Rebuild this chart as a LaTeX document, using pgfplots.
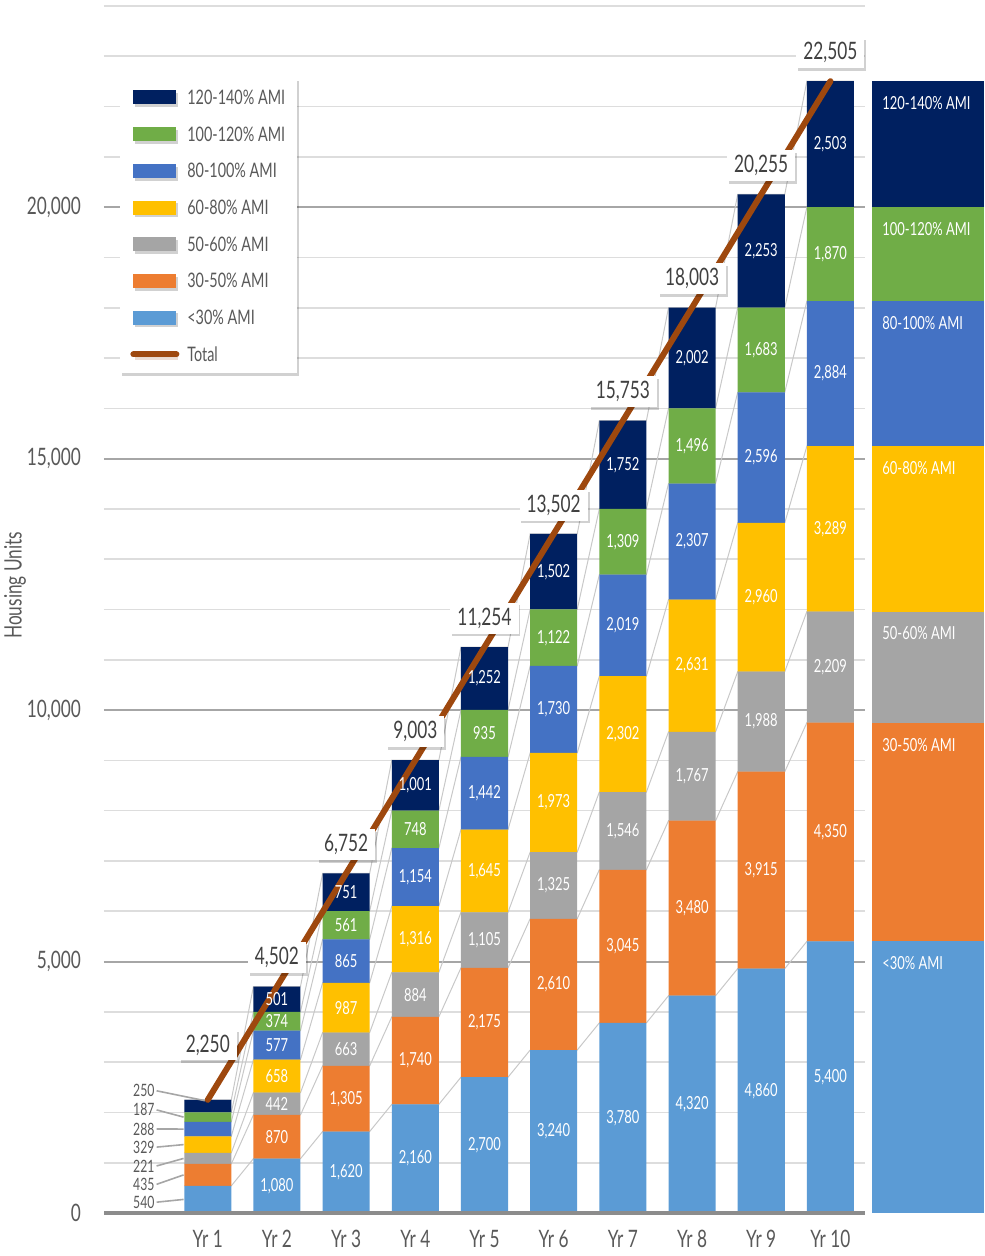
\documentclass[border=0pt]{standalone}
\usepackage{pgfplots}
\pgfplotsset{compat=1.18}
\usepackage{pgfplotstable}
\usepackage{fontspec}
\setmainfont{Lato}[FakeStretch=0.72]
\usetikzlibrary{shadows}

\definecolor{cA}{HTML}{5B9BD5}
\definecolor{cB}{HTML}{ED7D31}
\definecolor{cC}{HTML}{A5A5A5}
\definecolor{cD}{HTML}{FFC000}
\definecolor{cE}{HTML}{4472C4}
\definecolor{cF}{HTML}{70AD47}
\definecolor{cG}{HTML}{002060}
\definecolor{cT}{HTML}{9E480E}
\definecolor{txt}{HTML}{595959}
\definecolor{txtd}{HTML}{404040}
\definecolor{gmaj}{HTML}{A6A6A6}
\definecolor{gmin}{HTML}{DDDDDD}
\definecolor{sline}{HTML}{C8C8C8}
\definecolor{axl}{HTML}{8C8C8C}

\tikzset{shadowsty/.style={drop shadow={shadow xshift=0.9pt, shadow yshift=-1.4pt, opacity=0.18, fill=black}}}

\pgfplotsset{
  /pgf/number format/.cd, fixed, precision=0, 1000 sep={,}, assume math mode=true,
  /pgfplots/.cd,
  base/.style={scale only axis, width=380.5pt, height=603.5pt, xmin=-0.5, xmax=10.5, ymin=0, ymax=24000, at={(0pt,0pt)}, anchor=south west},
  patchlegend/.style={legend image code/.code={\fill[##1] (0pt,-3.5pt) rectangle (21.5pt,3.5pt);}},
  linelegend/.style={legend image code/.code={\draw[##1, line cap=round] (0pt,0pt) -- (21.5pt,0pt);}},
  seglabel/.style={draw=none, mark=none, nodes near coords, point meta=explicit, skip coords between index={0}{1},
    every node near coord/.append style={anchor=center, text=white, font=\fontsize{9}{9}\selectfont, inner sep=0pt}},
  totlabel/.style={draw=none, mark=none, nodes near coords, point meta=explicit,
    every node near coord/.append style={anchor=south, yshift=#1, fill=white, shadowsty,
    inner xsep=3.5pt, inner ysep=0pt, minimum height=15.5pt, text=txtd, font=\fontsize{12}{12}\selectfont}},
}

% raw values per year
\pgfplotstableread{
x a b c d e f g
1 540 435 221 329 288 187 250
2 1080 870 442 658 577 374 501
3 1620 1305 663 987 865 561 751
4 2160 1740 884 1316 1154 748 1001
5 2700 2175 1105 1645 1442 935 1252
6 3240 2610 1325 1973 1730 1122 1502
7 3780 3045 1546 2302 2019 1309 1752
8 4320 3480 1767 2631 2307 1496 2002
9 4860 3915 1988 2960 2596 1683 2253
10 5400 4350 2209 3289 2884 1870 2503
}\raw

% totals
\pgfplotstableread{
x t
1 2250
2 4502
3 6752
4 9003
5 11254
6 13502
7 15753
8 18003
9 20255
10 22505
}\tot

% cumulative boundaries at bar edges (series lines)
\pgfplotstableread{
x s1 s2 s3 s4 s5 s6 s7
0.66 540 975 1196 1525 1813 2000 2250
1.34 540 975 1196 1525 1813 2000 2250
1.66 1080 1950 2392 3050 3627 4001 4502
2.34 1080 1950 2392 3050 3627 4001 4502
2.66 1620 2925 3588 4575 5440 6001 6752
3.34 1620 2925 3588 4575 5440 6001 6752
3.66 2160 3900 4784 6100 7254 8002 9003
4.34 2160 3900 4784 6100 7254 8002 9003
4.66 2700 4875 5980 7625 9067 10002 11254
5.34 2700 4875 5980 7625 9067 10002 11254
5.66 3240 5850 7175 9148 10878 12000 13502
6.34 3240 5850 7175 9148 10878 12000 13502
6.66 3780 6825 8371 10673 12692 14001 15753
7.34 3780 6825 8371 10673 12692 14001 15753
7.66 4320 7800 9567 12198 14505 16001 18003
8.34 4320 7800 9567 12198 14505 16001 18003
8.66 4860 8775 10763 13723 16319 18002 20255
9.34 4860 8775 10763 13723 16319 18002 20255
9.66 5400 9750 11959 15248 18132 20002 22505
10.34 5400 9750 11959 15248 18132 20002 22505
}\cum

% Yr 1 outside labels
\pgfplotstableread{
lx ly v
0.25 2430 250
0.25 2050 187
0.25 1670 288
0.25 1310 329
0.25 935 221
0.25 570 435
0.25 215 540
}\yrone

\begin{document}
\begin{tikzpicture}
\useasboundingbox (-52pt,-21.5pt) rectangle (440pt,606.5pt);

% axis 1: grid, ticks, series lines
\begin{axis}[base,
  axis line style={draw=none},
  ymajorgrids, yminorgrids,
  major grid style={gmaj, line width=1pt},
  minor grid style={gmin, line width=0.8pt},
  ytick={0,5000,10000,15000,20000},
  minor ytick={0,1000,...,24000},
  scaled y ticks=false,
  xtick={1,...,10},
  xticklabels={Yr 1,Yr 2,Yr 3,Yr 4,Yr 5,Yr 6,Yr 7,Yr 8,Yr 9,Yr 10},
  major tick length=0pt, minor tick length=0pt,
  tick label style={font=\fontsize{12}{12}\selectfont, text=txt},
  yticklabel style={xshift=-8pt},
  xticklabel style={yshift=-5pt},
  ylabel={Housing Units},
  ylabel style={at={(axis description cs:-0.117,0.52)}, anchor=center, rotate=0, font=\fontsize{12}{12}\selectfont, text=txt},
]
\addplot[sline, line width=0.5pt] table[x=x, y=s1] \cum;
\addplot[sline, line width=0.5pt] table[x=x, y=s2] \cum;
\addplot[sline, line width=0.5pt] table[x=x, y=s3] \cum;
\addplot[sline, line width=0.5pt] table[x=x, y=s4] \cum;
\addplot[sline, line width=0.5pt] table[x=x, y=s5] \cum;
\addplot[sline, line width=0.5pt] table[x=x, y=s6] \cum;
\addplot[sline, line width=0.5pt] table[x=x, y=s7] \cum;
\end{axis}

% axis 2: stacked bars + legend
\begin{axis}[base, hide axis, ybar stacked, bar width=0.68,
  reverse legend,
  legend cell align=left,
  legend style={at={(0.021,0.9403)}, anchor=north west, draw=none, fill=white, shadowsty,
    font=\fontsize{10}{10}\selectfont, text=txt,
    inner xsep=5pt, inner ysep=4pt, row sep=7.35pt, /tikz/column sep=3pt,
    nodes={inner sep=1pt, text height=8pt, text depth=1pt}},
]
\addlegendimage{cT, line width=3pt, linelegend}
\addlegendentry{Total}
\addplot[fill=cA, draw=none, patchlegend] table[x=x, y=a] \raw;
\addlegendentry{<30\% AMI}
\addplot[fill=cB, draw=none, patchlegend] table[x=x, y=b] \raw;
\addlegendentry{30-50\% AMI}
\addplot[fill=cC, draw=none, patchlegend] table[x=x, y=c] \raw;
\addlegendentry{50-60\% AMI}
\addplot[fill=cD, draw=none, patchlegend] table[x=x, y=d] \raw;
\addlegendentry{60-80\% AMI}
\addplot[fill=cE, draw=none, patchlegend] table[x=x, y=e] \raw;
\addlegendentry{80-100\% AMI}
\addplot[fill=cF, draw=none, patchlegend] table[x=x, y=f] \raw;
\addlegendentry{100-120\% AMI}
\addplot[fill=cG, draw=none, patchlegend] table[x=x, y=g] \raw;
\addlegendentry{120-140\% AMI}
\end{axis}

% axis 3: labels, baseline, total line and boxes
\begin{axis}[base, hide axis, clip=false]
\addplot[seglabel] table[x=x, y expr=\thisrow{a}/2, meta=a] \raw;
\addplot[seglabel] table[x=x, y expr=\thisrow{a}+\thisrow{b}/2, meta=b] \raw;
\addplot[seglabel] table[x=x, y expr=\thisrow{a}+\thisrow{b}+\thisrow{c}/2, meta=c] \raw;
\addplot[seglabel] table[x=x, y expr=\thisrow{a}+\thisrow{b}+\thisrow{c}+\thisrow{d}/2, meta=d] \raw;
\addplot[seglabel] table[x=x, y expr=\thisrow{a}+\thisrow{b}+\thisrow{c}+\thisrow{d}+\thisrow{e}/2, meta=e] \raw;
\addplot[seglabel] table[x=x, y expr=\thisrow{a}+\thisrow{b}+\thisrow{c}+\thisrow{d}+\thisrow{e}+\thisrow{f}/2, meta=f] \raw;
\addplot[seglabel] table[x=x, y expr=\thisrow{a}+\thisrow{b}+\thisrow{c}+\thisrow{d}+\thisrow{e}+\thisrow{f}+\thisrow{g}/2, meta=g] \raw;
% Yr 1 leader lines
\addplot[gmaj, line width=0.8pt] coordinates {(0.26,2430) (0.96,2233)};
\addplot[gmaj, line width=0.8pt] coordinates {(0.26,2050) (0.65,1907)};
\addplot[gmaj, line width=0.8pt] coordinates {(0.26,1670) (0.65,1669)};
\addplot[gmaj, line width=0.8pt] coordinates {(0.26,1310) (0.65,1360)};
\addplot[gmaj, line width=0.8pt] coordinates {(0.26,935) (0.65,1085)};
\addplot[gmaj, line width=0.8pt] coordinates {(0.26,570) (0.65,757)};
\addplot[gmaj, line width=0.8pt] coordinates {(0.26,215) (0.65,270)};
\addplot[draw=none, mark=none, nodes near coords, point meta=explicit,
  every node near coord/.append style={anchor=east, text=txt, font=\fontsize{8.5}{8.5}\selectfont, inner sep=0.5pt}]
  table[x=lx, y=ly, meta=v] \yrone;
% baseline
\addplot[axl, line width=2pt] coordinates {(-0.5,0) (10.5,0)};
% total line
\addplot[cT, line width=3pt, line cap=round, line join=round] table[x=x, y=t] \tot;
\addplot[totlabel=19.5pt, skip coords between index={1}{10}] table[x=x, y=t, meta=t] \tot;
\addplot[totlabel=6.5pt, skip coords between index={0}{1}] table[x=x, y=t, meta=t] \tot;
\end{axis}

% axis 4: right column (Yr 10 composition)
\begin{axis}[scale only axis, width=56pt, height=603.5pt, at={(384pt,0pt)}, anchor=south west,
  xmin=-0.5, xmax=0.5, ymin=0, ymax=24000, hide axis, ybar stacked, bar width=1]
\addplot[fill=cA, draw=none] coordinates {(0,5400)};
\addplot[fill=cB, draw=none] coordinates {(0,4350)};
\addplot[fill=cC, draw=none] coordinates {(0,2209)};
\addplot[fill=cD, draw=none] coordinates {(0,3289)};
\addplot[fill=cE, draw=none] coordinates {(0,2884)};
\addplot[fill=cF, draw=none] coordinates {(0,1870)};
\addplot[fill=cG, draw=none] coordinates {(0,2503)};
\end{axis}

% axis 5: right column labels
\begin{axis}[scale only axis, width=56pt, height=603.5pt, at={(384pt,0pt)}, anchor=south west,
  xmin=-0.5, xmax=0.5, ymin=0, ymax=24000, hide axis, clip=false]
\addplot[draw=none, mark=none, nodes near coords, point meta=explicit symbolic,
  every node near coord/.append style={anchor=north west, text=white, font=\fontsize{9}{9}\selectfont, inner sep=0pt, xshift=5pt, yshift=-7.5pt}]
  coordinates {(-0.5,22505) [120-140\% AMI] (-0.5,20002) [100-120\% AMI] (-0.5,18132) [80-100\% AMI]
  (-0.5,15248) [60-80\% AMI] (-0.5,11959) [50-60\% AMI] (-0.5,9750) [30-50\% AMI] (-0.5,5400) [<30\% AMI]};
\end{axis}
\end{tikzpicture}
\end{document}
